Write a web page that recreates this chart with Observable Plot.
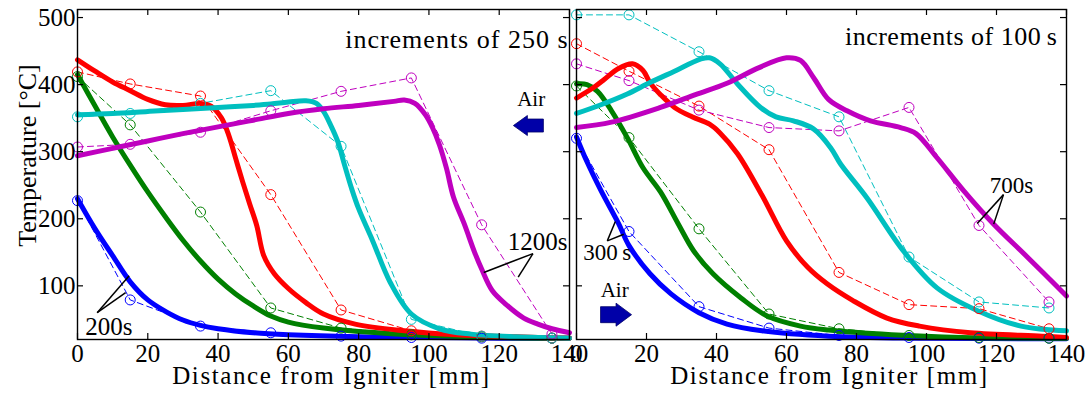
<!DOCTYPE html>
<html>
<head>
<meta charset="utf-8">
<script src="https://cdn.jsdelivr.net/npm/d3@7"></script>
<script src="https://cdn.jsdelivr.net/npm/@observablehq/plot@0.6"></script>
<style>
  body { margin: 0; background: #fff; }
  #chart { display: flex; width: 1091px; height: 396px; }
  #chart svg { flex: none; }
</style>
</head>
<body>
<div id="chart"></div>
<script>
// ---------- axes ----------
const xTicks = [0, 20, 40, 60, 80, 100, 120, 140];
const yTicks = [100, 200, 300, 400, 500];
const expX = [0, 15, 35, 55, 75, 95, 115, 135];

const leftSeries = ["200 s", "450 s", "700 s", "950 s", "1200 s"];
const rightSeries = ["300 s", "400 s", "500 s", "600 s", "700 s"];
const seriesColors = ["#0000ff", "#008000", "#ff0000", "#00bfbf", "#bf00bf"];

// ---------- left panel (increments of 250 s) : measured (dashed, circles) ----------
const leftExpBlue    = [227, 79, 40, 30, 25, 23, 22, 22];
const leftExpGreen   = [412, 340, 210, 67, 37, 27, 24, 22];
const leftExpRed     = [419, 401, 383, 236, 64, 33, 25, 22];
const leftExpCyan    = [352, 357, 372, 391, 308, 50, 25, 22];
const leftExpMagenta = [307, 311, 329, 361, 390, 410, 191, 28];

// ---------- left panel : model (thick) ----------
const leftBlueX = [0, 5, 10, 15, 20, 25, 30, 35, 40, 50, 60, 80, 100, 120, 140];
const leftBlueY = [230, 185, 145, 106, 79, 62, 49, 41, 36, 30, 27, 24, 23, 22, 22];
const leftGreenX = [0, 5, 10, 15, 20, 25, 30, 35, 40, 45, 50, 55, 60, 70, 80, 100, 120, 140];
const leftGreenY = [415, 368, 322, 280, 240, 203, 168, 137, 110, 88, 70, 55, 46, 37, 32, 26, 23, 22];
const leftRedX = [0, 5, 10, 15, 20, 25, 30, 35, 38, 41, 43, 45, 47, 49, 51, 53, 56, 60, 65, 70, 79, 93, 108, 125, 140];
const leftRedY = [437, 420, 404, 391, 378, 370, 369, 372, 368, 350, 325, 290, 255, 222, 190, 145, 118, 96, 75, 58, 43, 33, 27, 24, 22];
const leftCyanX = [0, 10, 20, 30, 40, 50, 55, 60, 65, 68, 70, 72, 74, 76, 78, 80, 84, 89, 95, 103, 112, 125, 140];
const leftCyanY = [355, 357, 360, 363, 366, 369, 371, 374, 376, 372, 360, 340, 316, 280, 245, 215, 167, 105, 58, 36, 28, 24, 22];
const leftMagentaX = [0, 10, 20, 30, 40, 50, 60, 70, 80, 90, 93, 96, 99, 101, 103, 105, 107, 110, 113, 115, 118, 122, 127, 131, 135, 140];
const leftMagentaY = [294, 305, 316, 327, 337, 347, 357, 364, 369, 375, 377, 372, 355, 336, 310, 275, 232, 193, 150, 125, 93, 72, 52, 43, 36, 30];

// ---------- right panel (increments of 100 s) : measured ----------
const rightExpBlue    = [320, 181, 69, 37, 26, 23, 22, 22];
const rightExpGreen   = [398, 321, 185, 58, 36, 26, 23, 22];
const rightExpRed     = [461, 420, 368, 303, 120, 72, 66, 36];
const rightExpCyan    = [504, 504, 449, 391, 352, 143, 76, 67];
const rightExpMagenta = [431, 406, 362, 336, 331, 366, 190, 76];

// ---------- right panel : model ----------
const rightBlueX = [0, 3, 7, 12, 15, 21, 27, 35, 43, 53, 72, 100, 140];
const rightBlueY = [322, 285, 242, 193, 160, 118, 88, 60, 43, 33, 25, 22, 21];
const rightGreenX = [0, 3, 6, 10, 14.5, 19, 24, 29, 33.5, 39, 47, 54.5, 64, 72, 90, 110, 140];
const rightGreenY = [401, 400, 390, 361, 321, 276, 240, 193, 152, 118, 82, 55, 40, 34, 27, 23, 22];
const rightRedX = [0, 5, 8, 12, 16, 19, 21, 24, 28, 33, 38, 41, 46, 53, 60, 66, 71.6, 79, 88.7, 98, 112.6, 133, 140];
const rightRedY = [380, 396, 408, 424, 431, 421, 403, 385, 366, 352, 341, 328, 297, 235, 167, 128, 103, 78, 52, 40, 30, 25, 23];
const rightCyanX = [0, 7, 14.5, 21, 28, 35.4, 38, 41, 46, 52.6, 57, 62, 67.7, 72.6, 75.4, 83, 93.4, 103, 114.6, 127, 140];
const rightCyanY = [357, 370, 386, 403, 420, 438, 440, 431, 401, 366, 352, 346, 334, 306, 282, 231, 152, 97, 63, 40, 33];
const rightMagentaX = [0, 10, 24, 34, 43, 52, 60, 64, 67.8, 72, 77.3, 84, 92.6, 97, 103, 110.6, 119, 129, 140];
const rightMagentaY = [336, 344, 366, 385, 402, 425, 440, 436, 410, 378, 361, 346, 336, 327, 291, 242, 193, 142, 85];

// ---------- build tables ----------
function modelRows(series, xs, ys) {
  return series.flatMap((s, i) => xs[i].map((x, j) => ({s, x, y: ys[i][j]})));
}
function expRows(series, ys) {
  return series.flatMap((s, i) => expX.map((x, j) => ({s, x, y: ys[i][j]})));
}

const leftModel = modelRows(leftSeries,
  [leftBlueX, leftGreenX, leftRedX, leftCyanX, leftMagentaX],
  [leftBlueY, leftGreenY, leftRedY, leftCyanY, leftMagentaY]);
const leftExp = expRows(leftSeries, [leftExpBlue, leftExpGreen, leftExpRed, leftExpCyan, leftExpMagenta]);
const rightModel = modelRows(rightSeries,
  [rightBlueX, rightGreenX, rightRedX, rightCyanX, rightMagentaX],
  [rightBlueY, rightGreenY, rightRedY, rightCyanY, rightMagentaY]);
const rightExp = expRows(rightSeries, [rightExpBlue, rightExpGreen, rightExpRed, rightExpCyan, rightExpMagenta]);

// block-arrow symbols
const arrowLeft = {draw(c) {
  c.moveTo(-15, 0); c.lineTo(-1, -10); c.lineTo(-1, -6.5); c.lineTo(15, -6.5);
  c.lineTo(15, 6.5); c.lineTo(-1, 6.5); c.lineTo(-1, 10); c.closePath();
}};
const arrowRight = {draw(c) {
  c.moveTo(15.5, 0); c.lineTo(0, -11.5); c.lineTo(0, -8); c.lineTo(-15.5, -8);
  c.lineTo(-15.5, 8); c.lineTo(0, 8); c.lineTo(0, 11.5); c.closePath();
}};

const H = 396, MT = 9, MB = 57;
const FONT = "Liberation Serif";
const T = {fontFamily: FONT};

function panel({width, series, model, exp, ml, mr, yAxis, extra, incText, incDx, incDy}) {
  const frameW = width - ml - mr, frameH = H - MT - MB;
  return Plot.plot({
    width, height: H,
    marginTop: MT, marginBottom: MB, marginLeft: ml, marginRight: mr,
    style: {fontFamily: FONT, fontSize: "25px", background: "none", overflow: "visible"},
    x: {domain: [0, 140], axis: null},
    y: {domain: [20, 512], axis: null},
    color: {domain: series, range: seriesColors},
    marks: [
      Plot.line(exp, {x: "x", y: "y", z: "s", stroke: "s", strokeWidth: 1, strokeDasharray: "6,4"}),
      Plot.line(model, {x: "x", y: "y", z: "s", stroke: "s", strokeWidth: 5, curve: "catmull-rom", strokeLinejoin: "round"}),
      Plot.dot(exp, {x: "x", y: "y", stroke: "s", r: 5, strokeWidth: 1, fill: "none"}),
      // inward ticks
      Plot.tickY(yTicks, {insetRight: frameW - 6, strokeWidth: 1.2}),
      Plot.tickY(yTicks, {insetLeft: frameW - 6, strokeWidth: 1.2}),
      Plot.tickX(xTicks, {insetBottom: frameH - 6, strokeWidth: 1.2}),
      Plot.tickX(xTicks, {insetTop: frameH - 6, strokeWidth: 1.2}),
      Plot.frame({stroke: "black", strokeWidth: 1.4}),
      Plot.axisX(xTicks, {...T, fontSize: 25, tickSize: 0, tickPadding: 5, label: null}),
      ...(yAxis ? [Plot.axisY(yTicks, {...T, fontSize: 25, tickSize: 0, tickPadding: 2, label: null})] : []),
      Plot.text(["Distance from Igniter [mm]"], {...T, text: d => d, fontSize: 25, frameAnchor: "bottom", textAnchor: "middle", lineAnchor: "bottom", dy: 44, dx: 8}),
      Plot.text([incText], {...T, text: d => d, frameAnchor: "top-right", textAnchor: "end", lineAnchor: "bottom", dx: incDx, dy: incDy, fontSize: 26}),
      ...extra
    ]
  });
}

const left = panel({
  width: 573, series: leftSeries, model: leftModel, exp: leftExp, ml: 77, mr: 4, yAxis: true,
  incText: "increments of 250 s", incDx: -1, incDy: 38,
  extra: [
    Plot.text(["Temperature [°C]"], {...T, text: d => d, frameAnchor: "left", textAnchor: "middle", rotate: -90, lineAnchor: "bottom", dx: -42, dy: -19, fontSize: 26}),
    // 200s label
    Plot.link([{x1: 5.6, y1: 60, x2: 14.7, y2: 115}, {x1: 5.6, y1: 60, x2: 13.7, y2: 90}], {x1: "x1", y1: "y1", x2: "x2", y2: "y2", stroke: "black", strokeWidth: 1.5}),
    Plot.text([{x: 8.9, y: 39, t: "200s"}], {...T, x: "x", y: "y", text: "t", fontSize: 25}),
    // 1200s label
    Plot.link([{x1: 129.6, y1: 148, x2: 115.6, y2: 120}, {x1: 129.6, y1: 148, x2: 125.4, y2: 113}], {x1: "x1", y1: "y1", x2: "x2", y2: "y2", stroke: "black", strokeWidth: 1.5}),
    Plot.text([{x: 130.9, y: 165, t: "1200s"}], {...T, x: "x", y: "y", text: "t", fontSize: 25}),
    // Air + arrow
    Plot.text([{x: 129.1, y: 378, t: "Air"}], {...T, x: "x", y: "y", text: "t", fontSize: 21}),
    Plot.dot([{x: 128.3, y: 339}], {x: "x", y: "y", symbol: arrowLeft, fill: "#0000a8", stroke: "#00006a", strokeWidth: 0.8, r: 10})
  ]
});

const right = panel({
  width: 518, series: rightSeries, model: rightModel, exp: rightExp, ml: 3, mr: 25, yAxis: false,
  incText: "increments of 100\u2009s", incDx: -9, incDy: 35,
  extra: [
    // 700s label
    Plot.link([{x1: 122, y1: 236, x2: 114.5, y2: 193}, {x1: 122, y1: 236, x2: 119.2, y2: 192}], {x1: "x1", y1: "y1", x2: "x2", y2: "y2", stroke: "black", strokeWidth: 1.5}),
    Plot.text([{x: 124.3, y: 249, t: "700s"}], {...T, x: "x", y: "y", text: "t", fontSize: 23}),
    // 300 s label
    Plot.link([{x1: 8.8, y1: 167, x2: 11.1, y2: 196}, {x1: 8.8, y1: 167, x2: 13.5, y2: 177}], {x1: "x1", y1: "y1", x2: "x2", y2: "y2", stroke: "black", strokeWidth: 1.5}),
    Plot.text([{x: 8.8, y: 150, t: "300\u2009s"}], {...T, x: "x", y: "y", text: "t", fontSize: 23}),
    // Air + arrow
    Plot.text([{x: 10.9, y: 93, t: "Air"}], {...T, x: "x", y: "y", text: "t", fontSize: 21}),
    Plot.dot([{x: 11.3, y: 57}], {x: "x", y: "y", symbol: arrowRight, fill: "#0000a8", stroke: "#00006a", strokeWidth: 0.8, r: 10})
  ]
});

// widen the serif labels a little (letter spacing) to match the reference text widths
for (const svg of [left, right]) {
  d3.select(svg).selectAll("text").each(function () {
    const t = this.textContent;
    if (t.startsWith("Distance")) this.setAttribute("letter-spacing", "1.6");
    else if (t.startsWith("increments")) this.setAttribute("letter-spacing", svg === left ? "1" : "0.5");
  });
}

const chart = document.getElementById("chart");
chart.append(left, right);
</script>
</body>
</html>
